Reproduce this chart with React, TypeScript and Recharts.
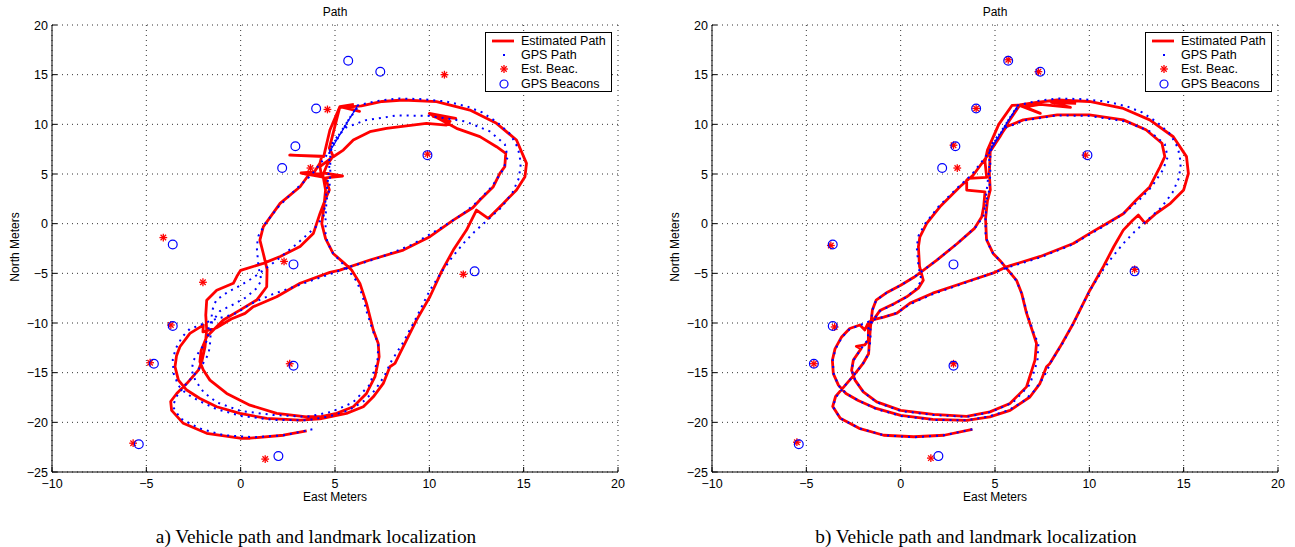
import React from "react";
import { ScatterChart, Scatter, XAxis, YAxis, CartesianGrid } from "recharts";

type Pt = [number, number];

const xTicks = [-10, -5, 0, 5, 10, 15, 20];
const yTicks = [-25, -20, -15, -10, -5, 0, 5, 10, 15, 20];

// GPS track, same in both panels
const gpsPath: Pt[] = [
  [3.8, -20.7], [2.3, -21.3], [0.7, -21.5], [-0.9, -21.3], [-2.2, -20.6], [-3.2, -19.6], [-3.6, -18.4],
  [-3.4, -17.4], [-3.0, -16.4], [-2.5, -15.3], [-2.0, -14.1], [-1.7, -13.1], [-1.6, -11.7], [-1.6, -10.4],
  [-1.5, -8.7], [-1.3, -7.7], [-0.7, -6.9], [0.0, -6.2], [0.7, -5.4], [1.9, -3.7], [3.0, -2.0], [4.0, -0.3],
  [4.4, 0.8], [4.5, 2.4], [4.6, 4.0], [4.7, 5.8], [4.7, 7.4],
  [6.2, 11.9], [7.2, 12.35], [8.3, 12.6], [9.5, 12.55], [10.9, 12.3], [12.0, 11.8], [12.8, 11.2], [13.6, 10.2],
  [14.3, 9.0], [14.7, 7.6], [14.85, 6.1], [14.75, 4.6], [14.4, 3.1], [13.8, 1.6], [13.1, 0.4], [12.4, -0.8],
  [11.8, -2.0], [11.2, -3.4], [10.6, -5.0], [10.0, -6.8], [9.3, -9.5], [8.6, -12.0], [8.0, -13.8], [7.6, -15.4],
  [7.1, -16.8], [6.5, -17.9], [5.7, -18.8], [4.7, -19.4], [3.5, -19.8], [1.7, -19.75], [0.0, -19.35],
  [-1.3, -18.65], [-2.25, -17.8], [-2.9, -17.1], [-3.3, -16.3], [-3.55, -15.1], [-3.6, -13.7], [-3.45, -12.6],
  [-3.1, -11.4], [-2.7, -10.6], [-2.2, -10.25],
  [-1.5, -9.7], [-0.9, -9.4], [-0.2, -9.0], [0.5, -8.1], [1.7, -7.1], [3.5, -5.9], [5.0, -4.9], [5.6, -4.45],
  [7.4, -3.4], [9.1, -2.1], [10.0, -1.1], [10.9, -0.1], [11.8, 1.0], [12.6, 2.3], [13.3, 3.7], [13.9, 5.4],
  [14.15, 6.7], [14.0, 8.0], [13.2, 9.3], [11.9, 10.3], [10.0, 10.85], [8.3, 10.9], [6.6, 10.4], [5.6, 9.7],
  [4.9, 8.3], [4.75, 7.0],
  [4.75, 5.0], [4.7, 3.4], [4.55, 2.4], [4.5, 0.5], [4.5, -1.0], [4.6, -1.9], [4.9, -3.0], [5.3, -3.8],
  [5.75, -4.8], [6.15, -5.8], [6.45, -7.2], [6.7, -9.0], [7.05, -11.0], [7.3, -12.1], [7.25, -13.8],
  [6.85, -16.2], [5.95, -18.0], [4.8, -18.95], [3.5, -19.45], [1.7, -19.25], [0.0, -18.85], [-1.25, -18.0],
  [-1.95, -17.0], [-2.4, -15.8], [-2.6, -14.75], [-2.5, -13.75], [-2.1, -12.6], [-1.75, -11.7], [-1.7, -10.4],
  [-1.1, -8.8], [-0.3, -8.05], [0.3, -7.4], [0.85, -6.5], [1.1, -5.7], [0.95, -4.4], [0.85, -2.3], [0.95, -1.2],
  [1.3, 0.0], [2.0, 1.7], [3.0, 3.6], [3.75, 4.9], [4.45, 6.6], [5.15, 8.6], [5.7, 10.4], [6.3, 11.95],
];

const gpsJump: Pt[] = [[4.7, 7.2], [6.2, 11.9]];

// panel a) estimated path
const estPathA: Pt[] = [
  [3.5, -20.85], [2.26, -21.3], [0.5, -21.6], [-0.04, -21.6], [-1.8, -21.1], [-3.04, -20.1], [-3.66, -18.8],
  [-3.71, -17.9], [-3.39, -17.1], [-2.86, -16.1], [-2.24, -14.75], [-2.05, -13.8], [-1.89, -12.4], [-1.8, -10.7],
  [-1.85, -9.2], [-1.8, -7.7], [-1.27, -6.7], [-0.39, -6.0], [-0.2, -5.3], [0.0, -4.7], [1.2, -4.0], [2.1, -3.3],
  [3.15, -2.3], [3.85, -1.0], [4.2, 1.0], [4.5, 2.5], [4.7, 3.4], [4.5, 4.6], [5.4, 4.8], [4.4, 5.1], [4.6, 6.0],
  [4.9, 6.8], [4.7, 7.6],
  [5.26, 11.78], [6.3, 11.3], [5.5, 11.7], [6.4, 11.85], [7.5, 12.3], [8.62, 12.45], [10.38, 12.28],
  [12.15, 11.44], [13.56, 10.1], [14.62, 8.42], [15.15, 6.07], [15.07, 4.73], [14.62, 3.39], [13.92, 2.04],
  [13.12, 0.53], [12.5, 1.37], [11.97, -0.64], [11.27, -2.66], [10.65, -4.8], [10.03, -7.36], [9.32, -9.71],
  [8.44, -13.06], [8.18, -14.07], [7.91, -14.4], [7.56, -16.08], [7.03, -17.43], [6.5, -18.43], [5.61, -19.1],
  [4.2, -19.65], [3.15, -19.78], [1.38, -19.61], [-0.04, -19.1], [-1.27, -18.43], [-2.16, -17.6],
  [-2.86, -16.75], [-3.3, -15.75], [-3.48, -14.4], [-3.4, -13.3], [-3.22, -12.39], [-2.69, -11.05],
  [-1.98, -10.21],
  [-2.0, -10.9], [-1.3, -10.5], [-0.5, -9.6], [0.23, -9.03], [0.67, -8.36], [1.91, -7.36], [3.15, -6.0],
  [4.73, -4.9], [5.26, -4.67], [6.85, -3.66], [8.62, -2.66], [10.03, -1.31], [11.27, 0.36], [12.3, 1.6],
  [12.68, 2.38], [13.39, 3.72], [13.74, 5.07], [14.0, 5.74], [14.05, 7.08], [13.56, 7.75], [12.68, 8.76],
  [11.44, 9.6], [10.0, 11.1], [11.4, 10.6], [10.2, 10.8], [11.1, 10.3], [10.91, 9.93], [9.85, 10.1],
  [7.73, 9.6], [6.85, 9.26], [5.97, 8.42], [5.44, 7.41], [4.91, 6.74], [4.2, 5.74],
  [4.3, 4.7], [3.2, 5.1], [4.35, 5.0], [4.5, 3.4], [4.4, 1.5], [4.3, 0.0], [4.5, -1.5], [4.9, -3.0],
  [5.5, -4.0], [5.88, -4.67], [6.32, -6.01], [6.67, -8.03], [7.03, -10.71], [7.29, -12.05], [7.34, -13.4],
  [7.12, -15.41], [6.67, -17.09], [5.97, -18.43], [5.08, -19.1], [4.2, -19.44], [3.5, -19.44], [1.91, -19.1],
  [0.49, -18.27], [-0.74, -17.09], [-1.63, -15.75], [-1.98, -14.74], [-2.16, -13.9], [-2.1, -12.8],
  [-1.8, -11.38],
  [-0.92, -9.7], [-0.04, -8.7], [0.85, -7.69], [1.38, -6.35], [1.4, -4.6], [1.2, -3.0], [1.02, -1.65],
  [1.2, -0.31], [2.09, 2.04], [3.15, 3.72], [3.6, 4.9], [3.2, 5.1], [3.9, 5.2], [4.2, 6.07], [4.3, 6.8],
  [2.6, 6.9], [4.4, 6.75], [4.73, 9.43], [5.26, 11.78], [6.0, 12.0],
];

// panel b) estimated path
const estPathB: Pt[] = [
  [3.8, -20.7], [2.3, -21.3], [0.7, -21.45], [-0.9, -21.3], [-2.2, -20.6], [-3.2, -19.6], [-3.6, -18.4],
  [-3.45, -17.4], [-3.0, -16.4], [-2.5, -15.3], [-2.0, -14.1], [-1.7, -13.1], [-1.65, -11.7], [-1.6, -10.4],
  [-1.5, -8.7], [-1.3, -7.7], [-0.7, -6.9], [0.0, -6.2], [0.7, -5.4], [1.9, -3.7], [3.0, -2.0], [3.9, -0.5],
  [4.3, 0.7], [4.4, 1.7], [4.47, 3.2], [3.5, 3.38], [3.5, 4.4], [3.6, 4.56], [4.56, 4.66], [4.47, 6.24],
  [4.6, 7.4], [5.2, 10.0], [5.9, 11.9],
  [6.3, 11.95], [7.2, 12.2], [8.3, 12.45], [10.0, 12.3], [11.8, 11.6], [13.2, 10.45], [14.45, 8.75],
  [15.15, 6.75], [15.25, 5.05], [15.0, 3.4], [14.3, 2.05], [13.55, 1.05], [12.95, 0.05], [12.6, 0.87],
  [12.3, 0.35], [11.8, -0.65], [11.3, -2.3], [10.75, -4.3], [10.03, -6.7], [9.15, -10.05], [8.45, -12.4],
  [7.9, -14.1], [7.73, -14.4], [7.38, -16.1], [6.85, -17.45], [5.8, -18.8], [4.73, -19.45], [3.5, -19.8],
  [1.7, -19.7], [0.0, -19.3], [-1.3, -18.6], [-2.25, -17.8], [-2.9, -17.1], [-3.3, -16.25], [-3.57, -15.1],
  [-3.62, -13.75], [-3.48, -12.6], [-3.13, -11.4], [-2.7, -10.55], [-2.16, -10.2], [-1.9, -10.7],
  [-1.75, -10.1],
  [-1.54, -9.7], [-0.9, -9.4], [-0.2, -9.0], [0.5, -8.0], [1.7, -7.0], [3.5, -5.85], [5.0, -4.9], [5.6, -4.35],
  [7.4, -3.3], [9.15, -2.0], [10.0, -1.0], [10.9, 0.0], [11.8, 1.0], [12.5, 2.4], [13.2, 3.7], [13.74, 5.7],
  [14.0, 6.75], [13.85, 8.1], [13.0, 9.45], [11.8, 10.45], [10.0, 10.95], [8.3, 10.95], [6.5, 10.45],
  [5.6, 9.75], [4.75, 7.4],
  [4.7, 5.0], [4.75, 3.4], [4.6, 2.3], [4.5, 0.5], [4.55, -1.6], [4.9, -3.0], [5.26, -3.7], [5.7, -4.7],
  [6.14, -5.7], [6.41, -7.0], [6.67, -9.0], [7.03, -11.06], [7.2, -12.06], [7.12, -13.74], [6.67, -16.43],
  [5.79, -18.1], [4.73, -18.95], [3.5, -19.4], [1.73, -19.2], [0.0, -18.8], [-1.27, -17.94], [-1.98, -16.93],
  [-2.42, -15.75], [-2.6, -14.75], [-2.51, -13.74], [-2.1, -12.6], [-2.35, -12.35], [-1.9, -12.2],
  [-1.71, -11.73], [-1.71, -10.38],
  [-1.1, -8.75], [-0.3, -8.0], [0.32, -7.36], [0.94, -6.5], [1.2, -5.7], [1.0, -4.3], [0.94, -2.32],
  [1.02, -1.32], [1.38, 0.03], [2.08, 1.7], [3.14, 3.72], [3.85, 4.9], [4.56, 6.74], [5.26, 8.75], [5.8, 10.5],
  [6.3, 11.9], [7.4, 11.1], [6.6, 11.75], [7.4, 12.0], [9.0, 11.7], [8.0, 12.2], [9.3, 12.1],
];

const gpsBeacons: Pt[] = [
  [5.7, 16.4], [7.4, 15.3], [4.0, 11.6], [2.9, 7.8], [2.2, 5.6], [9.9, 6.9], [-3.6, -2.1], [2.8, -4.1],
  [12.4, -4.8], [-3.6, -10.3], [-4.6, -14.1], [2.8, -14.3], [-5.4, -22.2], [2.0, -23.4],
];

const estBeaconsA: Pt[] = [
  [10.8, 15.0], [4.6, 11.5], [3.7, 5.6], [9.9, 7.0], [-4.1, -1.4], [2.3, -3.8], [11.8, -5.1], [-2.0, -5.9],
  [-3.7, -10.2], [-4.8, -14.0], [2.6, -14.1], [-5.7, -22.1], [1.3, -23.7],
];

const estBeaconsB: Pt[] = [
  [5.7, 16.5], [7.3, 15.3], [4.0, 11.6], [2.8, 7.9], [3.0, 5.6], [9.8, 6.9], [-3.7, -2.2], [12.4, -4.6],
  [-3.5, -10.4], [-4.6, -14.1], [2.8, -14.1], [-5.5, -22.0], [1.6, -23.6],
];

const toXY = (pts: Pt[]) => pts.map(([x, y]) => ({ x, y }));
const fmt = (v: number) => (v < 0 ? "\u2212" + Math.abs(v) : String(v));

const W = 640;
const H = 500;
const PL = 52;
const PT = 25;
const PR = 618;
const PB = 472;
const sans = "'Liberation Sans', Arial, Helvetica, sans-serif";

const noDot = () => <g />;
const circleShape = (p: any) => (
  <circle cx={p.cx} cy={p.cy} r={4.4} fill="none" stroke="#0000ff" strokeWidth={1.2} />
);
const Asterisk = ({ cx, cy, r = 3.9 }: { cx: number; cy: number; r?: number }) => {
  const d = r * 0.707;
  return (
    <g stroke="#ff0000" strokeWidth={1.3}>
      <line x1={cx - r} y1={cy} x2={cx + r} y2={cy} />
      <line x1={cx} y1={cy - r} x2={cx} y2={cy + r} />
      <line x1={cx - d} y1={cy - d} x2={cx + d} y2={cy + d} />
      <line x1={cx - d} y1={cy + d} x2={cx + d} y2={cy - d} />
    </g>
  );
};
const starShape = (p: any) => <Asterisk cx={p.cx} cy={p.cy} />;

const XTick = (p: any) => (
  <g>
    <line x1={p.x} x2={p.x} y1={PB} y2={PB - 5} stroke="#000" />
    <text x={p.x} y={PB + 16} textAnchor="middle" fontSize={12.5} fontFamily={sans} fill="#000">
      {fmt(p.payload.value)}
    </text>
  </g>
);
const YTick = (p: any) => (
  <g>
    <line x1={PL} x2={PL + 5} y1={p.y} y2={p.y} stroke="#000" />
    <text x={PL - 4} y={p.y + 4.5} textAnchor="end" fontSize={12.5} fontFamily={sans} fill="#000">
      {fmt(p.payload.value)}
    </text>
  </g>
);

function Legend() {
  const rows = [
    { label: "Estimated Path", icon: <line x1={6} x2={28} y1={7} y2={7} stroke="#ff0000" strokeWidth={2.8} /> },
    { label: "GPS Path", icon: <rect x={17} y={6} width={2} height={2} fill="#0000ff" /> },
    { label: "Est. Beac.", icon: <Asterisk cx={18} cy={7} /> },
    { label: "GPS Beacons", icon: <circle cx={18} cy={7} r={4} fill="none" stroke="#0000ff" strokeWidth={1.2} /> },
  ];
  return (
    <div
      style={{
        position: "absolute",
        left: PL + 433,
        top: 32,
        width: 125,
        height: 58,
        border: "1.5px solid #000",
        background: "#fff",
        fontFamily: sans,
        fontSize: 12.5,
      }}
    >
      {rows.map((r, i) => (
        <div key={r.label} style={{ position: "absolute", left: 0, top: 1 + i * 14.2, height: 14, display: "flex", alignItems: "center" }}>
          <svg width={34} height={14}>{r.icon}</svg>
          <span style={{ marginLeft: 1, lineHeight: "14px" }}>{r.label}</span>
        </div>
      ))}
    </div>
  );
}

function PathPanel({ est, estBeacons, caption, left }: { est: Pt[]; estBeacons: Pt[]; caption: string; left: number }) {
  const cx = (PL + PR) / 2;
  return (
    <div style={{ position: "absolute", left, top: 0, width: W, height: 547 }}>
      <ScatterChart width={W} height={H} margin={{ top: PT, right: W - PR, bottom: 0, left: 0 }}>
        <CartesianGrid stroke="#333" strokeDasharray="1 4" />
        <XAxis
          type="number"
          dataKey="x"
          domain={[-10, 20]}
          ticks={xTicks}
          interval={0}
          height={H - PB}
          allowDataOverflow
          axisLine={{ stroke: "#000" }}
          tickLine={false}
          tick={XTick}
        />
        <YAxis
          type="number"
          dataKey="y"
          domain={[-25, 20]}
          ticks={yTicks}
          interval={0}
          width={PL}
          allowDataOverflow
          axisLine={{ stroke: "#000" }}
          tickLine={false}
          tick={YTick}
        />
        <Scatter
          data={toXY(est)}
          line={{ stroke: "#ff0000", strokeWidth: 2.8, strokeLinejoin: "round" }}
          shape={noDot}
          isAnimationActive={false}
        />
        <Scatter
          data={toXY(gpsPath)}
          line={{ stroke: "#0000ff", strokeWidth: 2, strokeDasharray: "2 5" }}
          shape={noDot}
          isAnimationActive={false}
        />
        <Scatter data={toXY(gpsJump)} line={{ stroke: "#0000ff", strokeWidth: 1.2 }} shape={noDot} isAnimationActive={false} />
        <Scatter data={toXY(estBeacons)} shape={starShape} isAnimationActive={false} />
        <Scatter data={toXY(gpsBeacons)} shape={circleShape} isAnimationActive={false} />
      </ScatterChart>
      <div style={{ position: "absolute", left: cx - 50, width: 100, top: 5, textAlign: "center", fontFamily: sans, fontSize: 12 }}>Path</div>
      <div style={{ position: "absolute", left: cx - 60, width: 120, top: 490, textAlign: "center", fontFamily: sans, fontSize: 12 }}>
        East Meters
      </div>
      <div
        style={{
          position: "absolute",
          left: 15 - 60,
          top: 248 - 8,
          width: 120,
          textAlign: "center",
          fontFamily: sans,
          fontSize: 12,
          transform: "rotate(-90deg)",
        }}
      >
        North Meters
      </div>
      <Legend />
      <div
        style={{
          position: "absolute",
          left: 316 - 220,
          width: 440,
          top: 525,
          textAlign: "center",
          fontFamily: "'Liberation Serif', 'Times New Roman', serif",
          fontSize: 19.3,
          lineHeight: "24px",
        }}
      >
        {caption}
      </div>
    </div>
  );
}

export default function App() {
  return (
    <div style={{ position: "absolute", left: 0, top: 0, width: 1295, height: 547, background: "#fff", overflow: "hidden" }}>
      <PathPanel est={estPathA} estBeacons={estBeaconsA} caption="a) Vehicle path and landmark localization" left={0} />
      <PathPanel est={estPathB} estBeacons={estBeaconsB} caption="b) Vehicle path and landmark localization" left={660} />
    </div>
  );
}
